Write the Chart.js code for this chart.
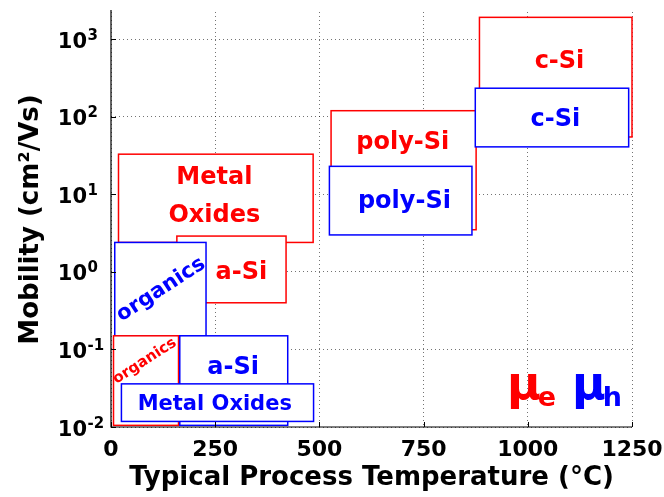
<!DOCTYPE html>
<html>
<head>
<meta charset="utf-8">
<script src="https://cdn.jsdelivr.net/npm/chart.js@4/dist/chart.umd.min.js"></script>
<style>
  html, body { margin: 0; padding: 0; background: #ffffff; }
  #wrap { width: 664px; height: 497px; }
</style>
</head>
<body>
<div id="wrap"><canvas id="c" width="664" height="497"></canvas></div>
<script>
// ---------------- data ----------------
const tempTicks = [0, 250, 500, 750, 1000, 1250];          // °C
const mobilityDecades = [-2, -1, 0, 1, 2, 3];              // 10^n cm²/Vs
const tempRange = [0, 1250];
const mobilityRange = [0.01, 2250];

// boxes, in drawing order (e = electron mobility, h = hole mobility)
const boxLabels  = ['Metal\nOxides', 'a-Si', 'organics', 'organics', 'a-Si', 'Metal Oxides', 'poly-Si', 'poly-Si', 'c-Si', 'c-Si'];
const boxCarrier = ['e', 'e', 'h', 'e', 'h', 'h', 'e', 'h', 'e', 'h'];
const tempLow    = [18, 158, 9, 6, 165, 25, 528, 524, 884, 874];
const tempHigh   = [485, 420, 228, 162, 424, 486, 876, 866, 1250, 1242];
const mobLow     = [2.4, 0.40, 0.15, 0.0105, 0.0105, 0.0118, 3.5, 3.0, 55, 41];
const mobHigh    = [33, 2.9, 2.4, 0.15, 0.15, 0.036, 120, 23, 1920, 234];
// where each label sits (in data units)
const labelTemp  = [248, 313, 120, 81, 293, 249, 700, 704, 1076, 1066];
const labelMob   = [10.1, 1.05, 0.59, 0.0706, 0.063, 0.0209, 50.4, 8.75, 561, 100];

// legend symbols
const legendSymbols = ['μ', 'μ'];
const legendSubs    = ['e', 'h'];

// ---------------- styles ----------------
const FONT = "'DejaVu Sans', 'Open Sans', sans-serif";
const carrierColor = { e: '#ff0000', h: '#0000ff' };
const labelFontSize = [24, 24, 21, 15, 24, 21, 24, 24, 24, 24];
const labelRotation = [0, 0, -33, -33, 0, 0, 0, 0, 0, 0];

const boxesPlugin = {
  id: 'boxes',
  afterDatasetsDraw(chart) {
    const { ctx, chartArea: a, scales: { x, y } } = chart;
    ctx.save();
    for (let i = 0; i < boxLabels.length; i++) {
      const x0 = x.getPixelForValue(tempLow[i]);
      const x1 = x.getPixelForValue(tempHigh[i]);
      const y0 = y.getPixelForValue(mobHigh[i]);
      const y1 = y.getPixelForValue(mobLow[i]);
      const col = carrierColor[boxCarrier[i]];
      ctx.fillStyle = '#ffffff';
      ctx.fillRect(x0, y0, x1 - x0, y1 - y0);
      ctx.strokeStyle = col;
      ctx.lineWidth = 1.5;
      ctx.strokeRect(x0, y0, x1 - x0, y1 - y0);

      // label
      const px = x.getPixelForValue(labelTemp[i]);
      const py = y.getPixelForValue(labelMob[i]);
      const fs = labelFontSize[i];
      ctx.fillStyle = col;
      ctx.font = 'bold ' + fs + 'px ' + FONT;
      ctx.textAlign = 'center';
      if (labelRotation[i] !== 0) {
        ctx.save();
        ctx.translate(px, py);
        ctx.rotate(labelRotation[i] * Math.PI / 180);
        ctx.textBaseline = 'middle';
        ctx.fillText(boxLabels[i], 0, 0);
        ctx.restore();
      } else {
        const lines = boxLabels[i].split('\n');
        const gap = 38;
        ctx.textBaseline = 'alphabetic';
        lines.forEach((ln, k) => {
          const cy = py + (k - (lines.length - 1) / 2) * gap;
          ctx.fillText(ln, px, cy + 0.365 * fs);
        });
      }
    }
    ctx.restore();
  },
  afterDraw(chart) {
    const { ctx, chartArea: a, scales: { x, y } } = chart;
    ctx.save();
    // axis lines
    ctx.strokeStyle = '#000';
    ctx.lineWidth = 1.2;
    ctx.beginPath();
    ctx.moveTo(a.left, a.top - 2);
    ctx.lineTo(a.left, a.bottom);
    ctx.lineTo(a.right, a.bottom);
    ctx.stroke();
    // inward tick marks
    ctx.lineWidth = 1;
    ctx.beginPath();
    tempTicks.forEach(t => {
      const px = Math.round(x.getPixelForValue(t)) + 0.5;
      ctx.moveTo(px, a.bottom);
      ctx.lineTo(px, a.bottom - 5);
    });
    mobilityDecades.forEach(d => {
      const py = Math.round(y.getPixelForValue(Math.pow(10, d))) + 0.5;
      ctx.moveTo(a.left, py);
      ctx.lineTo(a.left + 5, py);
    });
    ctx.stroke();
    // y tick labels 10^n
    ctx.fillStyle = '#000';
    mobilityDecades.forEach(d => {
      const py = y.getPixelForValue(Math.pow(10, d));
      ctx.font = 'bold 21px ' + FONT;
      ctx.textAlign = 'right';
      ctx.textBaseline = 'alphabetic';
      ctx.fillText('10', a.left - 24, py + 8.5);
      ctx.font = 'bold 15px ' + FONT;
      ctx.textAlign = 'left';
      ctx.fillText(d < 0 ? '-' + Math.abs(d) : String(d), a.left - 23.5, py + 0.5);
    });
    // legend μe μh
    const baseX = [a.right - 125, a.right - 60];
    const symSize = 46, subSize = 27;
    legendSymbols.forEach((s, k) => {
      const col = carrierColor[legendSubs[k]];
      ctx.fillStyle = col;
      ctx.textAlign = 'left';
      ctx.font = 'bold ' + symSize + 'px ' + FONT;
      ctx.fillText(s, baseX[k], a.bottom - 28);
      const w = ctx.measureText(s).width;
      ctx.font = 'bold ' + subSize + 'px ' + FONT;
      ctx.fillText(legendSubs[k], baseX[k] + w - 3, a.bottom - 21);
    });
    ctx.restore();
  }
};

new Chart(document.getElementById('c'), {
  type: 'scatter',
  data: { datasets: [] },
  options: {
    responsive: false,
    devicePixelRatio: 1,
    animation: false,
    layout: { padding: { top: 12, right: 32, bottom: 0, left: 0 } },
    plugins: { legend: { display: false }, tooltip: { enabled: false } },
    scales: {
      x: {
        type: 'linear',
        min: tempRange[0],
        max: tempRange[1],
        afterBuildTicks: s => { s.ticks = tempTicks.map(v => ({ value: v })); },
        afterFit: s => { s.height = 70; s.paddingLeft = 0; s.paddingRight = 0; },
        grid: { color: 'rgba(0,0,0,0.55)', lineWidth: 1, drawTicks: false },
        border: { display: false, dash: [1, 3] },
        ticks: {
          color: '#000',
          padding: 10,
          maxRotation: 0,
          autoSkip: false,
          callback: v => String(v),
          font: { family: FONT, size: 22, weight: 'bold' }
        },
        title: {
          display: true,
          text: 'Typical Process Temperature (°C)',
          color: '#000',
          font: { family: FONT, size: 26, weight: 'bold' },
          padding: { top: 0, bottom: 3 }
        }
      },
      y: {
        type: 'logarithmic',
        min: mobilityRange[0],
        max: mobilityRange[1],
        afterBuildTicks: s => { s.ticks = mobilityDecades.map(d => ({ value: Math.pow(10, d) })); },
        afterFit: s => { s.width = 111; s.paddingTop = 0; s.paddingBottom = 0; },
        grid: { color: 'rgba(0,0,0,0.55)', lineWidth: 1, drawTicks: false },
        border: { display: false, dash: [1, 3] },
        ticks: { display: false },
        title: {
          display: true,
          text: 'Mobility (cm²/Vs)',
          color: '#000',
          font: { family: FONT, size: 26, weight: 'bold' },
          padding: { top: 16, bottom: 0 }
        }
      }
    }
  },
  plugins: [boxesPlugin]
});
</script>
</body>
</html>
